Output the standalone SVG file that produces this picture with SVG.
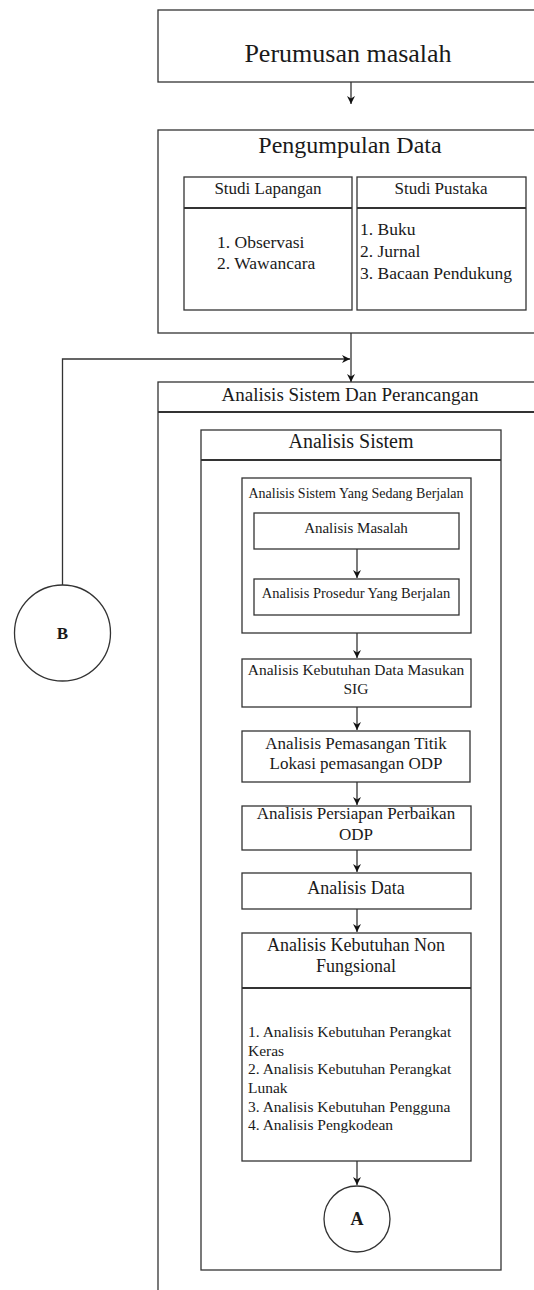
<svg xmlns="http://www.w3.org/2000/svg" width="534" height="1290" viewBox="0 0 534 1290">
<defs>
<marker id="arr" viewBox="0 0 10 10" refX="10" refY="5" markerWidth="8" markerHeight="8" markerUnits="userSpaceOnUse" orient="auto">
<path d="M0,0 L10,5 L0,10 L3,5 Z" fill="#111"/>
</marker>
<style>
rect,circle{fill:#fff;stroke:#333;stroke-width:1.3}
.sep{stroke:#333;stroke-width:2;fill:none}
.c{fill:none;stroke:#333;stroke-width:1.3}
text{font-family:'Liberation Serif','DejaVu Serif',serif;fill:#1a1a1a}
.m{text-anchor:middle}
.b{font-weight:bold}
</style>
</defs>
<rect width="534" height="1290" style="fill:#fff;stroke:none"/>

<g id="perumusan">
<rect x="158" y="10" width="390" height="72"/>
<text class="m" x="348" y="62" font-size="26">Perumusan masalah</text>
</g>

<g id="pengumpulan">
<rect x="158" y="130" width="390" height="203"/>
<text class="m" x="350" y="153" font-size="24">Pengumpulan Data</text>
</g>

<g id="studi-lapangan">
<rect x="184" y="177" width="168" height="133"/>
<line class="sep" x1="184" y1="208" x2="352" y2="208"/>
<text class="m" x="268" y="194" font-size="17">Studi Lapangan</text>
<text x="217" y="248" font-size="17.5">1. Observasi</text>
<text x="217" y="269" font-size="17.5">2. Wawancara</text>
</g>

<g id="studi-pustaka">
<rect x="357" y="177" width="169" height="133"/>
<line class="sep" x1="357" y1="208" x2="526" y2="208"/>
<text class="m" x="441" y="194" font-size="17">Studi Pustaka</text>
<text x="360" y="235" font-size="17.5">1. Buku</text>
<text x="360" y="257" font-size="17.5">2. Jurnal</text>
<text x="360" y="279" font-size="17.5">3. Bacaan Pendukung</text>
</g>

<g id="analisis-perancangan">
<rect x="158" y="382" width="390" height="950"/>
<line class="sep" x1="158" y1="412" x2="548" y2="412"/>
<text class="m" x="350" y="401" font-size="19">Analisis Sistem Dan Perancangan</text>
</g>

<g id="analisis-sistem">
<rect x="201" y="430" width="300" height="840"/>
<line class="sep" x1="201" y1="460" x2="501" y2="460"/>
<text class="m" x="351" y="448" font-size="20">Analisis Sistem</text>
</g>

<g id="sedang-berjalan">
<rect x="242" y="478" width="229" height="155"/>
<text class="m" x="356" y="498" font-size="14">Analisis Sistem Yang Sedang Berjalan</text>
</g>

<g id="analisis-masalah">
<rect x="254" y="513" width="205" height="36"/>
<text class="m" x="356" y="533" font-size="15">Analisis Masalah</text>
</g>

<g id="analisis-prosedur">
<rect x="254" y="579" width="205" height="36"/>
<text class="m" x="356" y="598" font-size="14.5">Analisis Prosedur Yang Berjalan</text>
</g>

<g id="kebutuhan-data">
<rect x="242" y="659" width="229" height="48"/>
<text class="m" x="356" y="675" font-size="15.5">Analisis Kebutuhan Data Masukan</text>
<text class="m" x="356" y="694" font-size="15.5">SIG</text>
</g>

<g id="pemasangan">
<rect x="242" y="731" width="228" height="51"/>
<text class="m" x="356" y="749" font-size="17">Analisis Pemasangan Titik</text>
<text class="m" x="356" y="769" font-size="17">Lokasi pemasangan ODP</text>
</g>

<g id="persiapan">
<rect x="242" y="806" width="229" height="44"/>
<text class="m" x="356" y="819" font-size="17">Analisis Persiapan Perbaikan</text>
<text class="m" x="356" y="840" font-size="17">ODP</text>
</g>

<g id="analisis-data">
<rect x="242" y="873" width="229" height="36"/>
<text class="m" x="356" y="894" font-size="18">Analisis Data</text>
</g>

<g id="non-fungsional">
<rect x="242" y="933" width="229" height="228"/>
<line class="sep" x1="242" y1="988" x2="471" y2="988"/>
<text class="m" x="356" y="951" font-size="18">Analisis Kebutuhan Non</text>
<text class="m" x="356" y="972" font-size="18">Fungsional</text>
<text x="248" y="1037" font-size="15.5">1. Analisis Kebutuhan Perangkat</text>
<text x="248" y="1055.5" font-size="15.5">Keras</text>
<text x="248" y="1074" font-size="15.5">2. Analisis Kebutuhan Perangkat</text>
<text x="248" y="1092.5" font-size="15.5">Lunak</text>
<text x="248" y="1111.5" font-size="15.5">3. Analisis Kebutuhan Pengguna</text>
<text x="248" y="1130" font-size="15.5">4. Analisis Pengkodean</text>
</g>

<g id="connector-a">
<circle cx="357" cy="1219" r="33"/>
<text class="m b" x="357" y="1225" font-size="18">A</text>
</g>

<g id="connector-b">
<circle cx="62.5" cy="633" r="48"/>
<text class="m b" x="62.5" y="639" font-size="17">B</text>
</g>

<g id="connectors">
<path class="c" d="M351 82 V104" marker-end="url(#arr)"/>
<path class="c" d="M351 333 V382" marker-end="url(#arr)"/>
<path class="c" d="M62.5 585 V359 H350" marker-end="url(#arr)"/>
<path class="c" d="M357 549 V578" marker-end="url(#arr)"/>
<path class="c" d="M357 633 V658" marker-end="url(#arr)"/>
<path class="c" d="M357 707 V730" marker-end="url(#arr)"/>
<path class="c" d="M357 782 V805" marker-end="url(#arr)"/>
<path class="c" d="M357 850 V872" marker-end="url(#arr)"/>
<path class="c" d="M357 909 V932" marker-end="url(#arr)"/>
<path class="c" d="M357 1161 V1185" marker-end="url(#arr)"/>
</g>
</svg>
